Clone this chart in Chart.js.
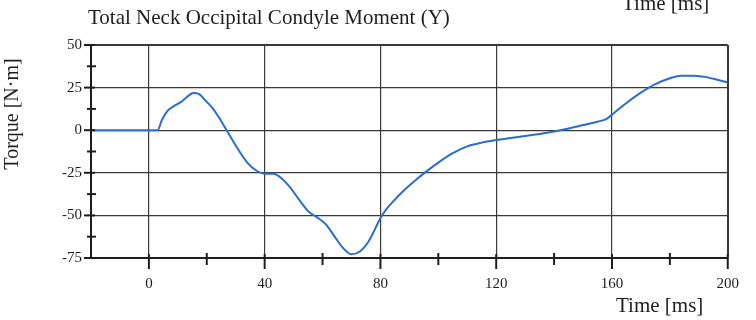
<!DOCTYPE html>
<html>
<head>
<meta charset="utf-8">
<script src="https://cdn.jsdelivr.net/npm/chart.js@4.4.1/dist/chart.umd.min.js"></script>
<style>
  html, body { margin: 0; padding: 0; background: #ffffff; }
  #wrap { width: 756px; height: 320px; }
</style>
</head>
<body>
<div id="wrap"><canvas id="c" width="756" height="320"></canvas></div>
<script>
// ---- data ----
const timeMs = [-20, 0, 3, 4.5, 6.5, 8.5, 11, 13.5, 15, 16, 17.5, 19.5, 22, 24, 26.5, 30, 34, 37, 40, 43, 46, 49, 52, 55, 58, 61, 64, 67, 70, 73, 76, 78, 80, 82, 84, 88, 92, 96, 100, 105, 110, 115, 120, 125, 130, 135, 140, 145, 150, 155, 158, 161, 165, 170, 175, 180, 184, 188, 192, 196, 200];
const torqueNm = [0, 0, 0, 6, 11.5, 14, 16.5, 20, 21.7, 21.9, 21, 17.5, 13, 8, 1, -9, -19, -23.5, -25.5, -25.5, -28.5, -34, -41, -47.5, -51, -55, -62, -69, -72.8, -71, -65, -58.5, -51.5, -46.5, -42.5, -35.5, -29.5, -24, -19, -13.5, -9.5, -7.3, -5.8, -4.6, -3.4, -2.2, -0.8, 1, 3, 5, 6.5, 10.5, 16, 22, 27, 30.5, 32, 32, 31.3, 29.8, 28];
const xTickLabels = [0, 40, 80, 120, 160, 200];
const yTickLabels = [-75, -50, -25, 0, 25, 50];
const xMinorTicks = [20, 60, 100, 140, 180];
const yMinorTicks = [37.5, 12.5, -12.5, -37.5, -62.5];
const chartTitle = 'Total Neck Occipital Condyle Moment (Y)';
const xAxisTitle = 'Time [ms]';
const yAxisTitle = 'Torque [N·m]';

const SERIF = "'Liberation Serif', 'Times New Roman', 'DejaVu Serif', serif";
const INK = '#1e1e1e';
const GRID = '#3a3a3a';

const tickMarks = {
  id: 'tickMarks',
  afterDraw(chart) {
    const ctx = chart.ctx;
    const xs = chart.scales.x, ys = chart.scales.y;
    const a = chart.chartArea;
    ctx.save();
    ctx.strokeStyle = INK;
    ctx.lineWidth = 2;
    // x axis ticks
    xTickLabels.forEach(v => {
      const px = xs.getPixelForValue(v);
      ctx.beginPath(); ctx.moveTo(px, a.bottom - 4); ctx.lineTo(px, a.bottom + 11); ctx.stroke();
    });
    xMinorTicks.forEach(v => {
      const px = xs.getPixelForValue(v);
      ctx.beginPath(); ctx.moveTo(px, a.bottom - 5); ctx.lineTo(px, a.bottom + 7); ctx.stroke();
    });
    // y axis ticks
    yTickLabels.forEach(v => {
      const py = ys.getPixelForValue(v);
      ctx.beginPath(); ctx.moveTo(a.left - 7, py); ctx.lineTo(a.left + 4, py); ctx.stroke();
    });
    yMinorTicks.forEach(v => {
      const py = ys.getPixelForValue(v);
      ctx.beginPath(); ctx.moveTo(a.left - 4, py); ctx.lineTo(a.left + 5, py); ctx.stroke();
    });
    // texts
    ctx.fillStyle = INK;
    ctx.textBaseline = 'alphabetic';
    ctx.textAlign = 'left';
    ctx.font = '21px ' + SERIF;
    ctx.fillText(chartTitle, 88, 24);
    ctx.fillText(xAxisTitle, 622, 10);
    ctx.fillText(xAxisTitle, 616, 312);
    ctx.translate(18, 114);
    ctx.rotate(-Math.PI / 2);
    ctx.textAlign = 'center';
    ctx.font = '20px ' + SERIF;
    ctx.fillText(yAxisTitle, 0, 0);
    ctx.restore();
  }
};

new Chart(document.getElementById('c'), {
  type: 'line',
  data: {
    datasets: [{
      data: timeMs.map((t, i) => ({ x: t, y: torqueNm[i] })),
      borderColor: '#2a6cd2',
      borderWidth: 2,
      pointRadius: 0,
      fill: false,
      cubicInterpolationMode: 'monotone'
    }]
  },
  options: {
    responsive: false,
    animation: false,
    events: [],
    layout: { padding: { top: 45, right: 13, left: 0, bottom: 0 } },
    plugins: { legend: { display: false }, tooltip: { enabled: false }, title: { display: false } },
    scales: {
      x: {
        type: 'linear', min: -20, max: 200,
        afterFit(s) { s.height = 62; },
        border: { display: true, color: INK, width: 2 },
        grid: {
          drawTicks: false,
          color: c => (xTickLabels.includes(c.tick.value) ? GRID : 'rgba(0,0,0,0)'),
          lineWidth: c => (c.tick.value === 200 ? 2 : 1.2)
        },
        ticks: {
          stepSize: 20, autoSkip: false, maxRotation: 0, padding: 17,
          color: INK, font: { family: SERIF, size: 15 },
          callback: v => (xTickLabels.includes(v) ? String(v) : '')
        }
      },
      y: {
        type: 'linear', min: -75, max: 50,
        afterFit(s) { s.width = 91; },
        border: { display: true, color: INK, width: 2 },
        grid: {
          drawTicks: false,
          color: c => (yTickLabels.includes(c.tick.value) ? GRID : 'rgba(0,0,0,0)'),
          lineWidth: c => (c.tick.value === 50 ? 2 : 1.2)
        },
        ticks: {
          stepSize: 12.5, autoSkip: false, padding: 9,
          color: INK, font: { family: SERIF, size: 15 },
          callback: v => (yTickLabels.includes(v) ? String(v) : '')
        }
      }
    }
  },
  plugins: [tickMarks]
});
</script>
</body>
</html>
